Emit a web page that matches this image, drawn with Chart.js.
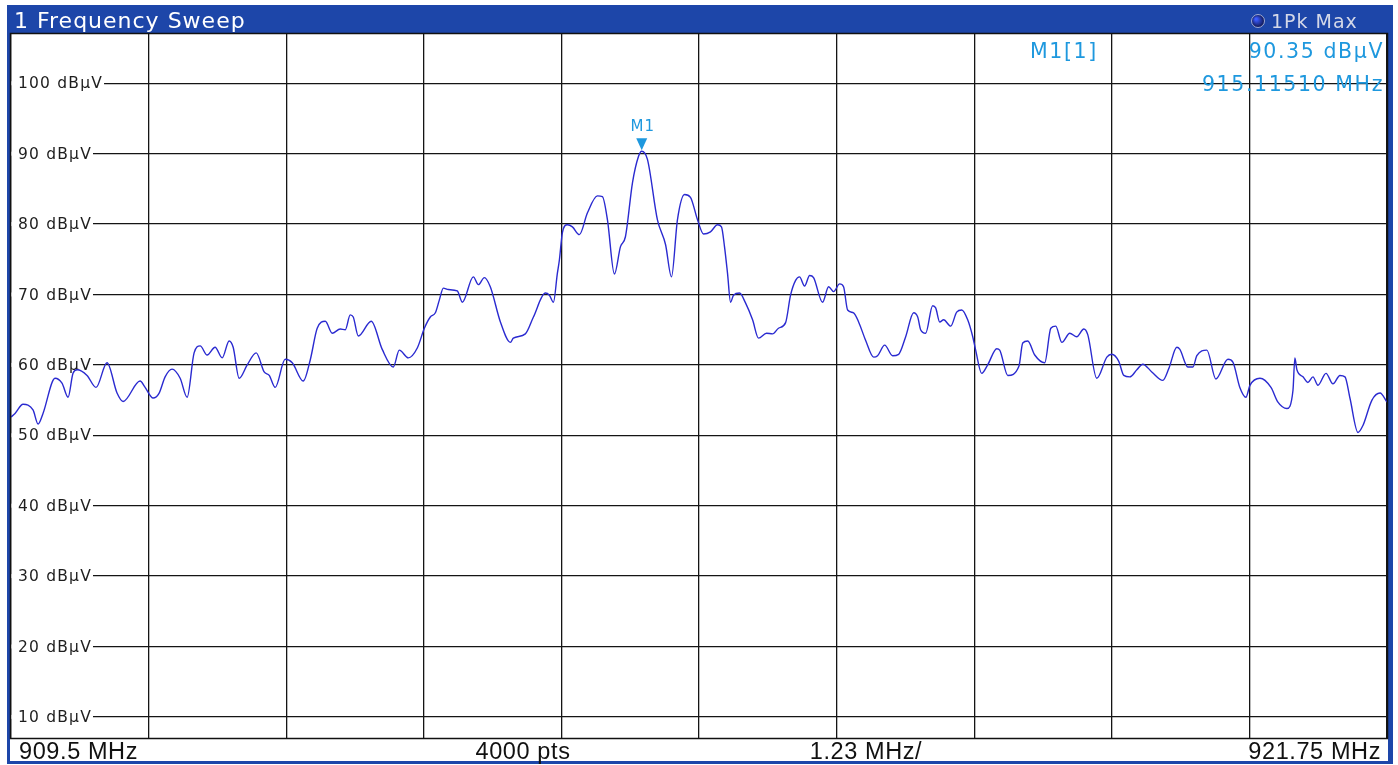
<!DOCTYPE html>
<html>
<head>
<meta charset="utf-8">
<script src="https://cdn.jsdelivr.net/npm/chart.js@4/dist/chart.umd.min.js"></script>
<style>
  html, body { margin: 0; padding: 0; background: #ffffff; }
  #wrap { width: 1398px; height: 765px; position: relative; }
  canvas { display: block; }
</style>
</head>
<body>
<div id="wrap"><canvas id="c" width="1398" height="765"></canvas></div>
<script>
// ---------------- DATA ----------------
const freqMHz = [
  909.500, 909.536, 909.607, 909.696, 909.741, 909.785, 909.892, 909.954, 910.008, 910.052,
  910.088, 910.177, 910.257, 910.355, 910.444, 910.498, 910.649, 910.694, 910.765, 910.819,
  910.872, 910.934, 911.006, 911.068, 911.130, 911.184, 911.246, 911.317, 911.380, 911.442,
  911.478, 911.531, 911.603, 911.683, 911.754, 911.799, 911.852, 911.941, 912.004, 912.102,
  912.164, 912.226, 912.298, 912.360, 912.431, 912.476, 912.520, 912.547, 912.592, 912.707,
  912.805, 912.903, 912.957, 913.037, 913.117, 913.180, 913.233, 913.278, 913.313, 913.349,
  913.393, 913.473, 913.518, 913.616, 913.661, 913.714, 913.767, 913.857, 913.946, 913.972,
  914.079, 914.151, 914.257, 914.293, 914.329, 914.364, 914.382, 914.409, 914.453, 914.498,
  914.560, 914.632, 914.721, 914.765, 914.810, 914.872, 914.926, 914.970, 915.033, 915.086,
  915.115, 915.166, 915.255, 915.327, 915.380, 915.433, 915.496, 915.549, 915.612, 915.665,
  915.727, 915.790, 915.825, 915.852, 915.879, 915.906, 915.932, 915.986, 916.039, 916.102,
  916.155, 916.226, 916.280, 916.333, 916.396, 916.440, 916.485, 916.520, 916.565, 916.610,
  916.645, 916.725, 916.779, 916.823, 916.877, 916.912, 916.948, 917.001, 917.046, 917.108,
  917.180, 917.215, 917.278, 917.349, 917.402, 917.465, 917.536, 917.572, 917.598, 917.643,
  917.705, 917.732, 917.768, 917.803, 917.866, 917.919, 917.964, 918.017, 918.062, 918.088,
  918.142, 918.195, 918.276, 918.302, 918.374, 918.473, 918.507, 918.552, 918.614, 918.703,
  918.757, 918.801, 918.855, 918.926, 918.988, 919.051, 919.086, 919.166, 919.256, 919.300,
  919.362, 919.407, 919.460, 919.523, 919.576, 919.656, 919.754, 919.808, 919.879, 919.906,
  919.977, 920.022, 920.057, 920.146, 920.227, 920.334, 920.378, 920.440, 920.494, 920.530,
  920.619, 920.717, 920.779, 920.859, 920.913, 920.930, 920.948, 921.002, 921.046, 921.091,
  921.135, 921.207, 921.269, 921.331, 921.376, 921.420, 921.492, 921.536, 921.616, 921.688,
  921.750
];
const levelDbuV = [
  52.6, 53.1, 54.4, 53.6, 51.6, 53.1, 58.1, 57.4, 55.4, 58.8,
  59.3, 58.5, 56.8, 60.3, 56.0, 54.8, 57.7, 56.8, 55.3, 56.0,
  58.3, 59.4, 58.1, 55.4, 61.7, 62.7, 61.4, 62.5, 61.0, 63.4,
  62.5, 58.1, 60.0, 61.7, 59.0, 58.5, 56.8, 60.8, 60.3, 57.7,
  60.7, 65.2, 66.2, 64.5, 65.1, 65.0, 67.1, 66.8, 64.1, 66.2,
  62.2, 59.7, 62.1, 61.0, 62.4, 65.2, 66.8, 67.4, 69.2, 70.9,
  70.7, 70.5, 68.9, 72.5, 71.4, 72.4, 71.1, 66.1, 63.2, 63.8,
  64.4, 66.8, 70.2, 69.9, 68.9, 73.0, 74.9, 78.8, 79.9, 79.6,
  78.5, 81.6, 84.0, 83.9, 80.6, 72.9, 76.8, 78.2, 85.9, 89.6,
  90.35, 89.2, 80.6, 77.1, 72.5, 80.6, 84.2, 83.8, 80.6, 78.6,
  78.9, 79.9, 79.6, 76.8, 73.0, 68.9, 69.9, 70.2, 68.8, 66.4,
  63.8, 64.5, 64.4, 65.2, 66.0, 69.9, 72.0, 72.5, 71.2, 72.7,
  72.4, 68.9, 71.1, 70.4, 71.5, 71.1, 67.8, 67.4, 66.1, 63.5,
  61.1, 61.3, 62.8, 61.3, 61.5, 64.0, 67.4, 66.8, 65.0, 64.5,
  68.4, 68.1, 66.1, 66.4, 65.5, 67.5, 67.8, 66.4, 64.0, 62.1,
  58.8, 60.0, 62.3, 62.1, 58.5, 59.8, 63.1, 63.4, 61.4, 60.3,
  65.2, 65.5, 63.2, 64.5, 64.0, 65.1, 64.3, 58.1, 61.1, 61.5,
  60.5, 58.5, 58.3, 59.3, 60.1, 59.0, 57.8, 59.5, 62.5, 62.2,
  59.7, 59.7, 61.3, 62.1, 58.0, 60.8, 60.4, 56.8, 55.4, 57.1,
  58.1, 56.8, 54.7, 53.8, 56.4, 61.0, 59.3, 58.3, 57.5, 58.3,
  57.1, 58.8, 57.3, 58.5, 58.3, 55.3, 50.4, 51.4, 55.0, 56.0,
  54.7
];
const yTickValues = [10, 20, 30, 40, 50, 60, 70, 80, 90, 100];
const yTickUnit = 'dBµV';
const yMin = 7, yMax = 107;
const xStartMHz = 909.5, xStopMHz = 921.75, xDivMHz = 1.225, xDivisions = 10;
const bottomLabels = ['909.5 MHz', '4000 pts', '1.23 MHz/', '921.75 MHz'];
const titleText = '1 Frequency Sweep';
const traceText = '1Pk Max';
const markerName = ['M1'];
const markerFreqMHz = [915.1151];
const markerLevel = [90.35];
const markerInfo = ['M1[1]', '90.35 dBµV', '915.11510 MHz'];

// ---------------- STYLE ----------------
const FRAME_BLUE = '#1d46a9';
const TRACE_BLUE = '#2a2ad0';
const MARKER_BLUE = '#1e98de';
const GRID = '#141414';

const xTickValues = [];
for (let i = 0; i <= xDivisions; i++) xTickValues.push(+(xStartMHz + i * xDivMHz).toFixed(4));

const decorPlugin = {
  id: 'decor',
  beforeDraw(chart) {
    const ctx = chart.ctx;
    const W = chart.width, H = chart.height;
    ctx.save();
    ctx.fillStyle = '#ffffff';
    ctx.fillRect(0, 0, W, H);
    // outer blue frame
    ctx.fillStyle = FRAME_BLUE;
    ctx.fillRect(7, 5, 1386, 29);        // title bar
    ctx.fillRect(7, 5, 3, 759);          // left
    ctx.fillRect(1388, 5, 5, 759);       // right
    ctx.fillRect(7, 761, 1386, 3);       // bottom
    // title
    ctx.fillStyle = '#ffffff';
    ctx.font = '22px "DejaVu Sans"';
    ctx.letterSpacing = '1px';
    ctx.textBaseline = 'alphabetic';
    ctx.textAlign = 'left';
    ctx.fillText(titleText, 14, 28);
    // trace indicator
    const g = ctx.createRadialGradient(1256, 19, 1, 1258, 21, 7);
    g.addColorStop(0, '#3b5cff');
    g.addColorStop(1, '#0a0f40');
    ctx.beginPath();
    ctx.arc(1258, 21, 6.5, 0, Math.PI * 2);
    ctx.fillStyle = g;
    ctx.fill();
    ctx.strokeStyle = '#c0c8e8';
    ctx.lineWidth = 0.8;
    ctx.stroke();
    ctx.fillStyle = '#d4d8e8';
    ctx.font = '19px "DejaVu Sans"';
    ctx.letterSpacing = '1px';
    ctx.fillText(traceText, 1271, 28);
    ctx.restore();
  },
  beforeDatasetsDraw(chart) {
    const ctx = chart.ctx;
    const ys = chart.scales.y;
    const area = chart.chartArea;
    ctx.save();
    ctx.font = '15.5px "DejaVu Sans"';
    ctx.letterSpacing = '1.2px';
    ctx.textBaseline = 'middle';
    ctx.textAlign = 'left';
    yTickValues.forEach(v => {
      const py = ys.getPixelForValue(v);
      const label = v + ' ' + yTickUnit;
      const w = ctx.measureText(label).width;
      ctx.fillStyle = '#ffffff';
      ctx.fillRect(area.left, py - 2, 18 - area.left + w + 1, 4);
      ctx.fillStyle = '#1e1e1e';
      ctx.fillText(label, 18, py + 1);
    });
    // marker info
    ctx.fillStyle = MARKER_BLUE;
    ctx.font = '20.5px "DejaVu Sans"';
    ctx.letterSpacing = '1.6px';
    ctx.textAlign = 'left';
    ctx.fillText(markerInfo[0], 1030, 53);
    ctx.textAlign = 'right';
    ctx.fillText(markerInfo[1], 1384, 53);
    ctx.fillText(markerInfo[2], 1384, 86);
    ctx.restore();
  },
  afterDatasetsDraw(chart) {
    const ctx = chart.ctx;
    const xs = chart.scales.x, ys = chart.scales.y;
    const area = chart.chartArea;
    ctx.save();
    // markers
    markerFreqMHz.forEach((f, i) => {
      const px = xs.getPixelForValue(f);
      const py = ys.getPixelForValue(markerLevel[i]);
      ctx.fillStyle = MARKER_BLUE;
      ctx.beginPath();
      ctx.moveTo(px - 5.5, py - 13);
      ctx.lineTo(px + 5.5, py - 13);
      ctx.lineTo(px, py - 1);
      ctx.closePath();
      ctx.fill();
      ctx.font = '15px "DejaVu Sans"';
      ctx.letterSpacing = '1px';
      ctx.textAlign = 'center';
      ctx.textBaseline = 'alphabetic';
      ctx.fillText(markerName[i], px + 1, py - 20);
    });
    // plot frame
    ctx.strokeStyle = '#111111';
    ctx.lineWidth = 1.5;
    ctx.strokeRect(area.left - 0.5, area.top - 0.5, area.right - area.left + 1, area.bottom - area.top + 1);
    // bottom labels
    ctx.fillStyle = '#111111';
    ctx.font = '23.5px "Liberation Sans"';
    ctx.letterSpacing = '0.6px';
    ctx.textBaseline = 'alphabetic';
    const by = 759;
    ctx.textAlign = 'left';
    ctx.fillText(bottomLabels[0], 19, by);
    ctx.textAlign = 'center';
    ctx.fillText(bottomLabels[1], 523, by);
    ctx.fillText(bottomLabels[2], 866, by);
    ctx.textAlign = 'right';
    ctx.fillText(bottomLabels[3], 1381, by);
    ctx.restore();
  }
};

new Chart(document.getElementById('c'), {
  type: 'line',
  data: {
    datasets: [{
      label: 'Trace 1',
      data: freqMHz.map((f, i) => ({ x: f, y: levelDbuV[i] })),
      borderColor: TRACE_BLUE,
      borderWidth: 1.4,
      pointRadius: 0,
      fill: false,
      cubicInterpolationMode: 'monotone',
      tension: 0.3
    }]
  },
  options: {
    responsive: false,
    animation: false,
    devicePixelRatio: 1,
    layout: { padding: { left: 11, right: 11, top: 34, bottom: 27 } },
    plugins: { legend: { display: false }, tooltip: { enabled: false }, title: { display: false } },
    scales: {
      x: {
        type: 'linear',
        min: xStartMHz,
        max: xStopMHz,
        afterBuildTicks: (s) => { s.ticks = xTickValues.map(v => ({ value: v })); },
        ticks: { display: false },
        grid: { color: GRID, lineWidth: 1.3, drawTicks: false, tickLength: 0 },
        border: { display: false }
      },
      y: {
        type: 'linear',
        min: yMin,
        max: yMax,
        afterBuildTicks: (s) => { s.ticks = yTickValues.map(v => ({ value: v })); },
        ticks: { display: false },
        grid: { color: GRID, lineWidth: 1.3, drawTicks: false, tickLength: 0 },
        border: { display: false }
      }
    }
  },
  plugins: [decorPlugin]
});
</script>
</body>
</html>
